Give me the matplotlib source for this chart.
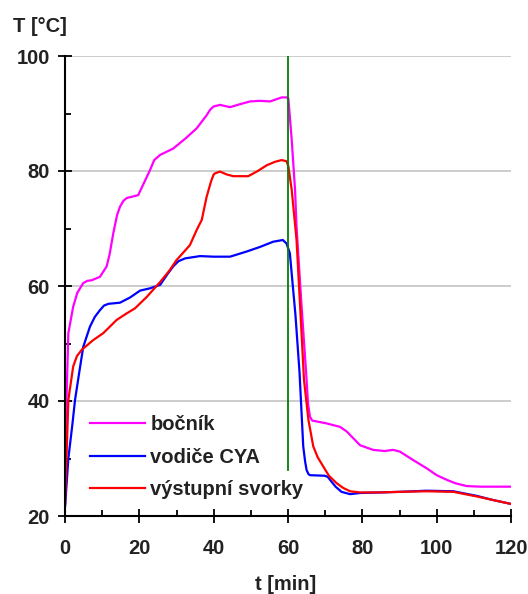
import matplotlib
matplotlib.use("Agg")
import matplotlib.pyplot as plt
from matplotlib.ticker import MultipleLocator

plt.rcParams['font.family'] = ['Liberation Sans', 'DejaVu Sans']

# bočník (shunt)
t_bocnik = [0, 0.4, 0.9, 2.2, 3.3, 4.9, 6.0, 7.2, 9.4, 11.2, 12.0, 13.0, 14.0,
            14.8, 15.7, 16.6, 19.7, 21.3, 22.9, 24.0, 25.6, 29.1, 32.5, 35.4,
            38.0, 39.0, 39.9, 41.7, 44.4, 47.0, 49.8, 52.5, 55.2, 58.3, 59.6,
            60.1, 61.0, 61.9, 62.3, 63.5, 65.0, 65.4, 65.9, 66.5, 70.4, 74.0,
            75.8, 79.4, 82.9, 86.0, 88.3, 90.1, 93.5, 97.3, 100.0, 102.7,
            105.0, 108.1, 112.0, 116.0, 120.0]
T_bocnik = [22.0, 40.2, 51.8, 56.4, 58.8, 60.5, 60.9, 61.0, 61.6, 63.4, 65.5,
            69.2, 72.3, 73.8, 74.8, 75.3, 75.8, 78.0, 80.2, 81.9, 82.8, 83.9,
            85.7, 87.4, 89.6, 90.6, 91.2, 91.5, 91.1, 91.6, 92.1, 92.2, 92.1,
            92.8, 92.8, 92.6, 85.4, 76.7, 70.3, 58.0, 43.7, 39.5, 37.3, 36.6,
            36.1, 35.5, 34.7, 32.3, 31.5, 31.3, 31.5, 31.2, 29.8, 28.3, 27.1,
            26.3, 25.7, 25.2, 25.1, 25.1, 25.1]

# vodiče CYA (cables)
t_cya = [0, 0.9, 2.0, 2.7, 3.6, 4.9, 6.7, 8.0, 9.4, 10.5, 11.7, 14.8, 17.5,
         20.2, 22.9, 25.6, 27.5, 29.1, 30.5, 32.3, 36.3, 40.0, 44.4, 48.9,
         52.5, 56.0, 58.6, 59.6, 60.5, 62.0, 63.1, 64.1, 64.6, 65.0, 65.5,
         65.9, 69.9, 70.7, 71.3, 72.8, 74.4, 76.7, 79.4, 85.0, 90.0, 97.3,
         104.5, 110.8, 115.0, 120.0]
T_cya = [21.5, 30.0, 36.0, 40.2, 44.0, 49.4, 52.9, 54.6, 55.8, 56.6, 56.9,
         57.1, 58.0, 59.2, 59.6, 60.2, 62.0, 63.4, 64.3, 64.8, 65.2, 65.1,
         65.1, 66.0, 66.8, 67.7, 68.0, 67.4, 65.7, 55.0, 45.0, 32.1, 29.5,
         28.0, 27.3, 27.1, 27.0, 26.8, 26.3, 25.1, 24.2, 23.8, 24.0, 24.1,
         24.2, 24.4, 24.3, 23.5, 22.8, 22.1]

# výstupní svorky (output terminals)
t_svorky = [0, 0.5, 0.9, 2.2, 3.2, 4.5, 7.6, 10.3, 13.9, 16.5, 18.8, 22.0,
            25.6, 28.0, 30.0, 33.6, 35.4, 36.8, 38.1, 39.3, 40.0, 40.4, 41.7,
            43.5, 45.3, 49.3, 51.6, 54.3, 56.5, 58.3, 59.6, 60.1, 61.0, 62.3,
            63.3, 64.3, 65.5, 66.8, 68.0, 69.5, 71.0, 73.1, 74.8, 76.7, 79.4,
            85.0, 90.0, 97.3, 104.5, 110.8, 115.0, 120.0]
T_svorky = [22.0, 32.0, 40.2, 46.0, 47.8, 48.9, 50.6, 51.8, 54.1, 55.2, 56.1,
            58.1, 60.7, 62.6, 64.5, 67.1, 69.7, 71.5, 75.5, 78.2, 79.4, 79.6,
            79.9, 79.4, 79.1, 79.1, 79.9, 81.0, 81.6, 81.9, 81.7, 80.8, 76.7,
            68.0, 56.0, 43.7, 36.7, 32.1, 30.2, 28.6, 27.0, 25.7, 24.9, 24.3,
            24.1, 24.1, 24.2, 24.3, 24.2, 23.4, 22.8, 22.1]

series_names = ['bočník', 'vodiče CYA', 'výstupní svorky']
series_colors = ['#ff00ff', '#0000ff', '#ff0000']

t_switch_off = 60   # end of loading
marker_bottom = 28  # lower end of the vertical marker

FS = 14.5
TXT = '#222222'

fig = plt.figure(figsize=(5.28, 5.94), dpi=100)
ax = fig.add_axes([65 / 528, 78 / 594, 446 / 528, 460 / 594])

ax.set_xlim(0, 120)
ax.set_ylim(20, 100)

for y in (40, 60, 80, 100):
    ax.axhline(y, color='#c4c4c4', lw=1.2, zorder=0)

lines = []
for t, T, name, c in zip((t_bocnik, t_cya, t_svorky), (T_bocnik, T_cya, T_svorky),
                         series_names, series_colors):
    ln, = ax.plot(t, T, color=c, lw=1.6, label=name, zorder=2,
                  solid_joinstyle='round')
    lines.append(ln)

ax.plot([t_switch_off, t_switch_off], [marker_bottom, 100], color='#008000',
        lw=1.3, zorder=3)

for s in ('top', 'right'):
    ax.spines[s].set_visible(False)
for s in ('left', 'bottom'):
    ax.spines[s].set_linewidth(1.5)
    ax.spines[s].set_color('black')

ax.xaxis.set_major_locator(MultipleLocator(20))
ax.xaxis.set_minor_locator(MultipleLocator(10))
ax.yaxis.set_major_locator(MultipleLocator(20))
ax.yaxis.set_minor_locator(MultipleLocator(10))
ax.tick_params(which='major', direction='inout', length=9.5, width=1.3,
               labelsize=FS)
ax.tick_params(which='minor', direction='in', length=4.5, width=1.3)
ax.tick_params(axis='y', which='major', pad=6)
ax.tick_params(axis='x', which='major', pad=12)
for lbl in ax.get_xticklabels() + ax.get_yticklabels():
    lbl.set_fontweight('bold')
    lbl.set_color(TXT)

# the 60 min tick is drawn in the marker colour
for tick in ax.xaxis.get_major_ticks():
    if abs(tick.get_loc() - t_switch_off) < 1e-6:
        tick.tick1line.set_color('#008000')

leg = ax.legend(handles=lines, loc='lower left', bbox_to_anchor=(25 / 446, 0.036),
                frameon=False, handlelength=2.75, handletextpad=0.25,
                labelspacing=0.68, borderaxespad=0.0, borderpad=0.0,
                prop={'size': FS, 'weight': 'bold'})
for txt in leg.get_texts():
    txt.set_color(TXT)

fig.text(13 / 528, 1 - 27 / 594, 'T [°C]', fontsize=FS, fontweight='bold',
         color=TXT, ha='left', va='center')
fig.text(286 / 528, 1 - 585 / 594, 't [min]', fontsize=FS, fontweight='bold',
         color=TXT, ha='center', va='center')

fig.savefig('out.png', dpi=100)
